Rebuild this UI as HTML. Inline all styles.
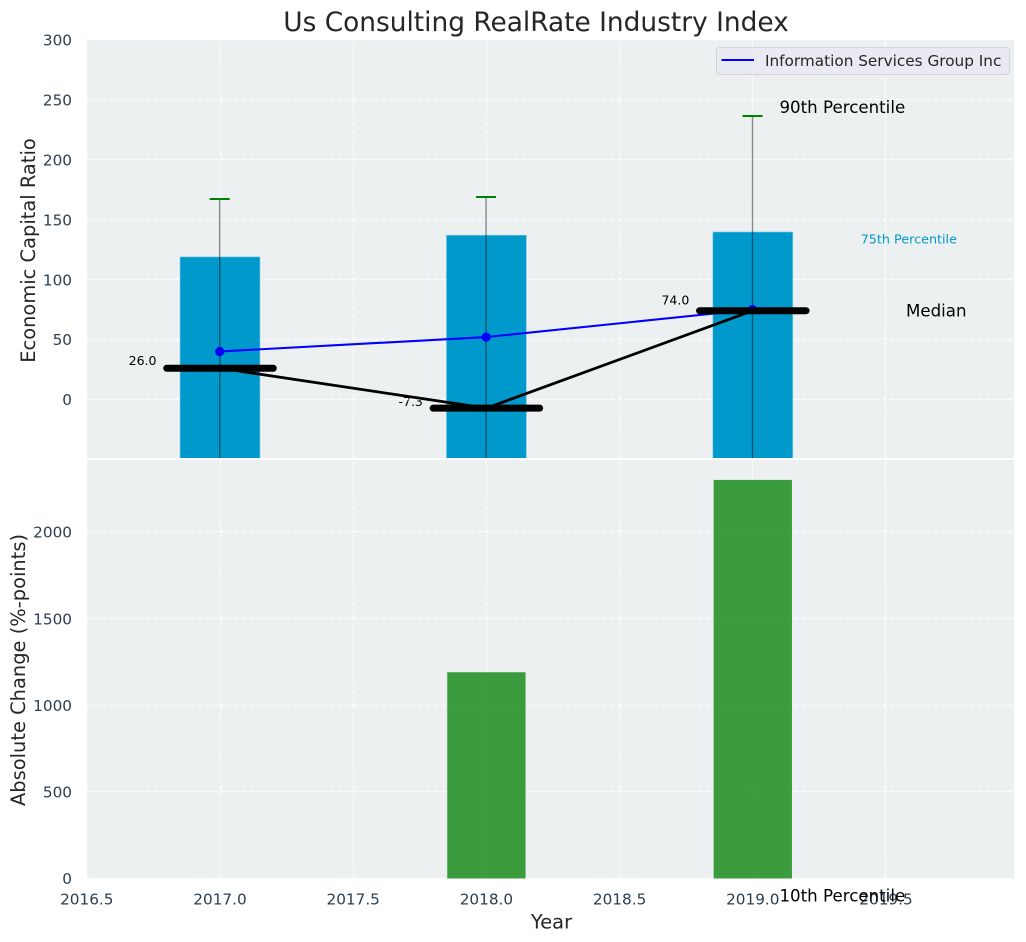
<!DOCTYPE html>
<html>
<head>
<meta charset="utf-8">
<title>Us Consulting RealRate Industry Index</title>
<style>
html,body{margin:0;padding:0;background:#fff;width:1026px;height:942px;overflow:hidden}
svg{display:block}
text{font-family:"DejaVu Sans","Liberation Sans",sans-serif}
</style>
</head>
<body>
<svg id="chart" width="1026" height="942" viewBox="0 0 1026 942" xmlns="http://www.w3.org/2000/svg">
<defs>
<clipPath id="clip-top"><rect x="87" y="40" width="927" height="418"/></clipPath>
<clipPath id="clip-bottom"><rect x="87" y="460" width="927" height="418.5"/></clipPath>
</defs>
</svg>
<script>
const years = [2017, 2018, 2019];
const p10 = [-300, -300, -414];
const p25 = [-100, -100, -100];
const p75 = [118.9, 137, 139.7];
const p90 = [167.3, 169, 236.5];
const medians = [26, -7.3, 74];
const medianLabels = ["26.0", "-7.3", "74.0"];
const company = [40, 52, 75];
const changes = [0, 1190, 2300];
const xTicks = [2016.5, 2017, 2017.5, 2018, 2018.5, 2019, 2019.5];
const xTickLabels = ["2016.5", "2017.0", "2017.5", "2018.0", "2018.5", "2019.0", "2019.5"];
const yTicksTop = [0, 50, 100, 150, 200, 250, 300];
const yTicksBottom = [0, 500, 1000, 1500, 2000];

const NS = "http://www.w3.org/2000/svg";
const svg = document.getElementById("chart");

function X(v) { return 86.8 + (v - 2016.5) * 266.4; }
function YT(v) { return 399.4 - v * 1.1983; }
function YB(v) { return 878.5 - v * 0.1733; }
function snap(p) { return Math.floor(p) + 0.5; }

function mk(tag, attrs, parent, txt) {
  const el = document.createElementNS(NS, tag);
  for (const k in attrs) el.setAttribute(k, attrs[k]);
  if (txt !== undefined) el.textContent = txt;
  (parent || svg).appendChild(el);
  return el;
}
function group(clip) {
  const g = mk("g", clip ? { "clip-path": "url(#" + clip + ")" } : {});
  return g;
}
let el;

// axes backgrounds
el = mk("rect", { x: 87, y: 40, width: 927, height: 418, fill: "#ecf0f1" });


el = mk("rect", { x: 87, y: 460, width: 927, height: 418.5, fill: "#ecf0f1" });



const topPanel = group("clip-top");
const bottomPanel = group("clip-bottom");
const overlay = group(null);

// value labels sit beneath the grid
function medianLabelLift(i) { return i === 2 ? 6.2 : i === 1 ? 2.1 : 3.2; }
medians.forEach((m, i) => {
  el = mk("text", { x: X(years[i]) - 63.5, y: YT(m) - medianLabelLift(i), "text-anchor": "end", "font-size": 12.5, fill: "#000" }, topPanel, medianLabels[i]);
  
  
});

// grids
const gridStyle = { stroke: "#fff", "stroke-width": 1.39, "stroke-dasharray": "5.14 2.22", "stroke-opacity": 0.8 };
xTicks.forEach(t => {
  el = mk("line", Object.assign({ x1: snap(X(t)), x2: snap(X(t)), y1: 458, y2: 40 }, gridStyle), topPanel);
  
  
  el = mk("line", Object.assign({ x1: snap(X(t)), x2: snap(X(t)), y1: 878.5, y2: 460 }, gridStyle), bottomPanel);
  
  
});
yTicksTop.forEach(t => {
  el = mk("line", Object.assign({ x1: 87, x2: 1014, y1: snap(YT(t)), y2: snap(YT(t)) }, gridStyle), topPanel);
  
  
});
yTicksBottom.forEach(t => {
  el = mk("line", Object.assign({ x1: 87, x2: 1014, y1: snap(YB(t)), y2: snap(YB(t)) }, gridStyle), bottomPanel);
  
  
});

// percentile bars (25th to 75th)
const barW = 0.3;
years.forEach((yr, i) => {
  el = mk("rect", { x: X(yr - barW / 2), y: YT(p75[i]), width: X(yr + barW / 2) - X(yr - barW / 2), height: YT(p25[i]) - YT(p75[i]), fill: "#0099cc", stroke: "#7fcbe5", "stroke-width": 0.6 }, topPanel);
  
  
});

// 10th-90th whiskers
years.forEach((yr, i) => {
  el = mk("line", { x1: X(yr) - 0.3, x2: X(yr) - 0.3, y1: YT(p90[i]), y2: YT(p10[i]), stroke: "#000", "stroke-opacity": 0.45, "stroke-width": 1.39 }, topPanel);
  
  
  el = mk("line", { x1: X(yr) - 10.3, x2: X(yr) + 9.7, y1: Math.round(YT(p90[i])), y2: Math.round(YT(p90[i])), stroke: "#008000", "stroke-width": 2 }, topPanel);
  
  
});

// company line
el = mk("polyline", { points: years.map((yr, i) => X(yr) + "," + YT(company[i])).join(" "), fill: "none", stroke: "#0000ff", "stroke-width": 2.08 }, topPanel);


years.forEach((yr, i) => {
  el = mk("circle", { cx: X(yr) - 0.3, cy: YT(company[i]), r: 4.6, fill: "#0000ff" }, topPanel);
  
  
});

// median line and bars
el = mk("polyline", { points: years.map((yr, i) => X(yr) + "," + YT(medians[i])).join(" "), fill: "none", stroke: "#000", "stroke-width": 2.78 }, topPanel);


years.forEach((yr, i) => {
  el = mk("line", { x1: X(yr - 0.2), x2: X(yr + 0.2), y1: YT(medians[i]), y2: YT(medians[i]), stroke: "#000", "stroke-width": 6.94, "stroke-linecap": "round" }, topPanel);
  
  
});

// bottom bars
years.forEach((yr, i) => {
  el = mk("rect", { x: X(yr - 0.147), y: YB(changes[i]), width: X(yr + 0.147) - X(yr - 0.147), height: YB(0) - YB(changes[i]), fill: "#008000", "fill-opacity": 0.75 }, bottomPanel);
  
  
});

// tick labels
const tickColor = "#2c3e50";
xTicks.forEach((t, i) => {
  el = mk("text", { x: X(t), y: 904.5, "text-anchor": "middle", "font-size": 15.28, fill: tickColor }, overlay, xTickLabels[i]);
  
  
});
yTicksTop.forEach(t => {
  el = mk("text", { x: 72, y: YT(t) + 5.7, "text-anchor": "end", "font-size": 15.28, fill: tickColor }, overlay, String(t));
  
  
});
yTicksBottom.forEach(t => {
  el = mk("text", { x: 72, y: YB(t) + 5.7, "text-anchor": "end", "font-size": 15.28, fill: tickColor }, overlay, String(t));
  
  
});

// percentile annotations for the last year
const last = years.length - 1;
el = mk("text", { x: X(2019.1), y: YT(p90[last] + 7.6) + 6, "font-size": 16.67, fill: "#000" }, overlay, "90th Percentile");


el = mk("text", { x: X(2019.405), y: YT(p75[last] - 5.7) + 4.5, "font-size": 12.75, fill: "#0099cc" }, overlay, "75th Percentile");


el = mk("text", { x: X(2019.575), y: YT(medians[last]) + 6, "font-size": 16.67, fill: "#000" }, overlay, "Median");


el = mk("text", { x: X(2019.1), y: YT(p10[last]) + 6, "font-size": 16.67, fill: "#000" }, overlay, "10th Percentile");



// titles
el = mk("text", { x: 536, y: 31, "text-anchor": "middle", "font-size": 26.4, fill: "#262626" }, overlay, "Us Consulting RealRate Industry Index");


el = mk("text", { x: 551.5, y: 928.5, "text-anchor": "middle", "font-size": 19.44, fill: "#262626" }, overlay, "Year");


el = mk("text", { x: 0, y: 0, transform: "translate(35,250.5) rotate(-90)", "text-anchor": "middle", "font-size": 19.44, fill: "#262626" }, overlay, "Economic Capital Ratio");


el = mk("text", { x: 0, y: 0, transform: "translate(25,670) rotate(-90)", "text-anchor": "middle", "font-size": 19.44, fill: "#262626" }, overlay, "Absolute Change (%-points)");



// legend
const legend = mk("g", {}, overlay);


el = mk("rect", { x: 716.5, y: 47.5, width: 293, height: 27, rx: 3, fill: "#eaeaf2", "fill-opacity": 0.9, stroke: "#d3d3d6" }, legend);


el = mk("line", { x1: 721.5, x2: 754, y1: 60, y2: 60, stroke: "#0000ff", "stroke-width": 2 }, legend);


el = mk("text", { x: 765, y: 66, "font-size": 15.28, fill: "#262626" }, legend, "Information Services Group Inc");


</script>
</body>
</html>
